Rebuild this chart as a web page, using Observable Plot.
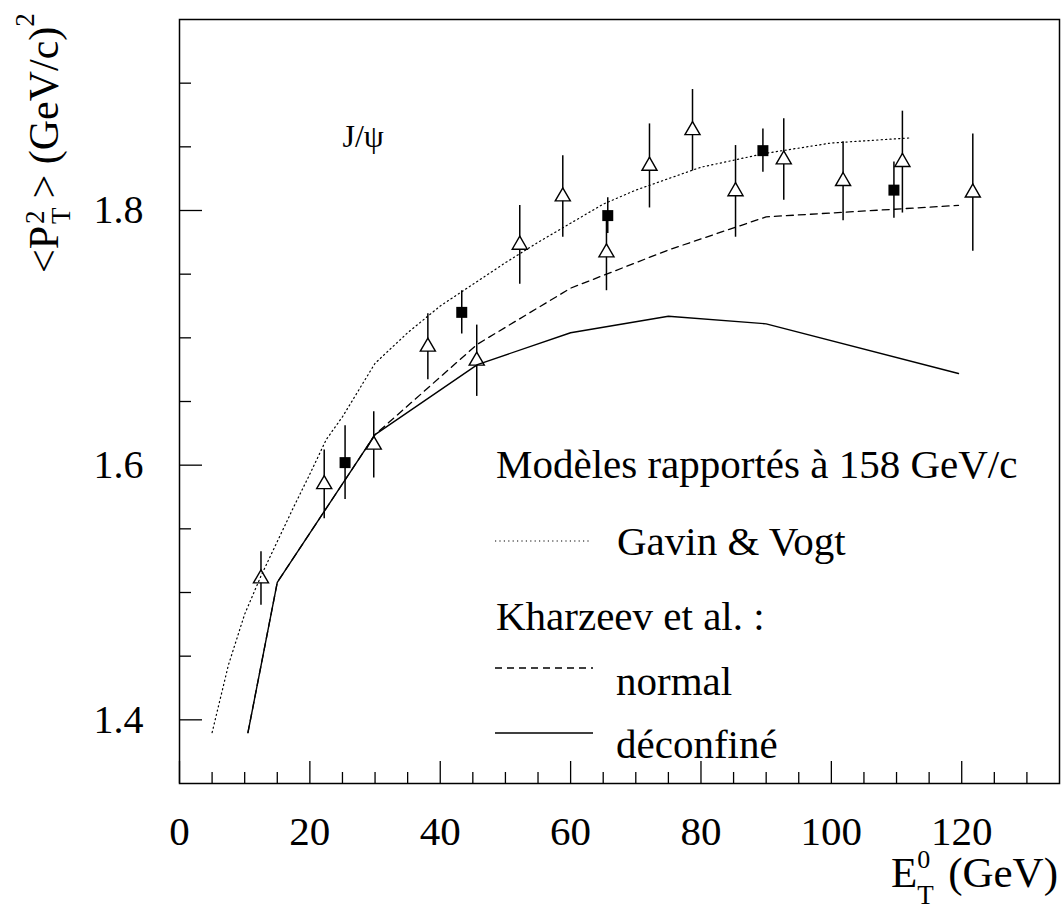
<!DOCTYPE html>
<html>
<head>
<meta charset="utf-8">
<script src="https://cdn.jsdelivr.net/npm/d3@7"></script>
<script src="https://cdn.jsdelivr.net/npm/@observablehq/plot@0.6"></script>
<style>
  html, body { margin: 0; padding: 0; background: #fff; }
  #chart { width: 1062px; height: 919px; }
</style>
</head>
<body>
<div id="chart"></div>
<script>
// ---- Data ----
// Open triangles (E_T^0, <pT^2>, error)
const triX   = [12.5, 22.2, 29.8, 38.1, 45.6, 52.2, 58.8, 65.5, 72.1, 78.7, 85.3, 92.7, 101.8, 110.9, 121.7];
const triY   = [1.511, 1.585, 1.616, 1.693, 1.682, 1.773, 1.811, 1.767, 1.835, 1.863, 1.815, 1.840, 1.823, 1.838, 1.814];
const triErr = [0.021, 0.027, 0.026, 0.026, 0.028, 0.031, 0.032, 0.030, 0.033, 0.032, 0.036, 0.032, 0.031, 0.040, 0.046];

// Filled squares
const sqX   = [25.4, 43.3, 65.7, 89.5, 109.6];
const sqY   = [1.602, 1.720, 1.796, 1.847, 1.816];
const sqErr = [0.029, 0.017, 0.014, 0.017, 0.022];

// Gavin & Vogt (dotted)
const gvX = [5, 7.5, 10, 12.5, 15, 17.5, 20, 22.5, 25, 30, 35, 40, 45, 50, 55, 60, 65, 70, 75, 80, 90, 100, 112];
const gvY = [1.390, 1.443, 1.483, 1.513, 1.540, 1.567, 1.593, 1.620, 1.638, 1.680, 1.704, 1.725, 1.742, 1.759, 1.775, 1.790, 1.805, 1.816, 1.825, 1.834, 1.845, 1.853, 1.857];

// Kharzeev et al. normal (dashed)
const knX = [10.5, 15, 30, 45.7, 60, 75, 90, 119.5];
const knY = [1.390, 1.508, 1.624, 1.695, 1.739, 1.769, 1.795, 1.804];

// Kharzeev et al. deconfined (solid)
const kdX = [10.5, 15, 30, 45.7, 60, 75, 90, 119.5];
const kdY = [1.390, 1.508, 1.624, 1.679, 1.704, 1.717, 1.711, 1.672];

// Axes
const xDomain = [0, 135];
const yDomain = [1.35, 1.95];
const xMajor = [0, 20, 40, 60, 80, 100, 120];
const xMinor = [5, 10, 15, 25, 30, 35, 45, 50, 55, 65, 70, 75, 85, 90, 95, 105, 110, 115, 125, 130];
const yMajor = [1.4, 1.6, 1.8];
const yMinor = [1.45, 1.5, 1.55, 1.65, 1.7, 1.75, 1.85, 1.9];

// Annotation in data coordinates
const annX = [25];
const annY = [1.85];
const annText = ["J/ψ"];

// Legend texts
const legendTitle = "Modèles rapportés à 158 GeV/c";
const legendGV = "Gavin & Vogt";
const legendK = "Kharzeev et al. :";
const legendKN = "normal";
const legendKD = "déconfiné";

// ---- Build ----
const W = 1062, H = 919, mL = 179, mR = 3, mT = 19, mB = 136;
const innerW = W - mL - mR, innerH = H - mT - mB;
const serif = "'Liberation Serif', 'Times New Roman', Times, serif";

const tri = triX.map((x, i) => ({x, y: triY[i], e: triErr[i]}));
const sq = sqX.map((x, i) => ({x, y: sqY[i], e: sqErr[i]}));
const gv = gvX.map((x, i) => ({x, y: gvY[i]}));
const kn = knX.map((x, i) => ({x, y: knY[i]}));
const kd = kdX.map((x, i) => ({x, y: kdY[i]}));
const ann = annX.map((x, i) => ({x, y: annY[i], t: annText[i]}));

const chart = Plot.plot({
  width: W, height: H,
  marginLeft: mL, marginRight: mR, marginTop: mT, marginBottom: mB,
  x: {domain: xDomain, axis: null},
  y: {domain: yDomain, axis: null},
  style: {background: "white", fontFamily: serif, color: "black", overflow: "visible"},
  marks: [
    Plot.tickX(xMinor, {x: d => d, insetTop: innerH - 11, stroke: "black", strokeWidth: 1.3}),
    Plot.tickX(xMajor, {x: d => d, insetTop: innerH - 22, stroke: "black", strokeWidth: 1.3}),
    Plot.tickY(yMinor, {y: d => d, insetRight: innerW - 12, stroke: "black", strokeWidth: 1.3}),
    Plot.tickY(yMajor, {y: d => d, insetRight: innerW - 23, stroke: "black", strokeWidth: 1.3}),
    Plot.text(xMajor, {x: d => d, text: d => String(d), frameAnchor: "bottom", lineAnchor: "top", dy: 32, fontSize: 41, fontFamily: serif, fill: "black"}),
    Plot.text(yMajor, {y: d => d, text: d => d.toFixed(1), frameAnchor: "left", textAnchor: "end", dx: -36, fontSize: 40, fontFamily: serif, fill: "black"}),
    Plot.ruleX(tri, {x: "x", y1: d => d.y - d.e, y2: d => d.y + d.e, stroke: "black", strokeWidth: 1.5}),
    Plot.ruleX(sq, {x: "x", y1: d => d.y - d.e, y2: d => d.y + d.e, stroke: "black", strokeWidth: 1.5}),
    Plot.dot(tri, {x: "x", y: "y", symbol: "triangle", r: 5.6, fill: "white", stroke: "black", strokeWidth: 1.4}),
    Plot.line(gv, {x: "x", y: "y", stroke: "black", strokeWidth: 1.2, strokeDasharray: "1.2,3.2"}),
    Plot.line(kn, {x: "x", y: "y", stroke: "black", strokeWidth: 1.3, strokeDasharray: "7,5"}),
    Plot.line(kd, {x: "x", y: "y", stroke: "black", strokeWidth: 1.4}),
    Plot.dot(sq, {x: "x", y: "y", symbol: "square", r: 6.2, fill: "black", stroke: "none"}),
    Plot.text(ann, {x: "x", y: "y", text: "t", textAnchor: "start", lineAnchor: "bottom", fontSize: 32, fontFamily: serif, fill: "black"}),
    Plot.frame({stroke: "black", strokeWidth: 1.5})
  ]
});
document.getElementById("chart").appendChild(chart);

// ---- Legend and axis titles (overlayed text) ----
const svg = d3.select(chart);
function addText(g, x, y, size, str, anchor) {
  return g.append("text")
    .attr("x", x).attr("y", y)
    .attr("text-anchor", anchor || "start")
    .style("font-family", serif)
    .style("font-size", size + "px")
    .style("fill", "black")
    .text(str);
}
const leg = svg.append("g");
addText(leg, 496, 478, 41, legendTitle);
leg.append("line").attr("x1", 495).attr("x2", 590).attr("y1", 541).attr("y2", 541)
  .attr("stroke", "black").attr("stroke-width", 1.2).attr("stroke-dasharray", "1.2,3.2");
addText(leg, 617, 555, 41, legendGV);
addText(leg, 496, 630, 41, legendK);
leg.append("line").attr("x1", 495).attr("x2", 593).attr("y1", 668).attr("y2", 668)
  .attr("stroke", "black").attr("stroke-width", 1.3).attr("stroke-dasharray", "7,5");
addText(leg, 616, 695, 41, legendKN);
leg.append("line").attr("x1", 495).attr("x2", 593).attr("y1", 733).attr("y2", 733)
  .attr("stroke", "black").attr("stroke-width", 1.4);
addText(leg, 616, 758, 41, legendKD);

// X title: E_T^0 (GeV)
const xt = svg.append("text")
  .attr("x", 891).attr("y", 887).attr("text-anchor", "start")
  .style("font-family", serif).style("font-size", "43px").style("fill", "black");
xt.append("tspan").text("E");
xt.append("tspan").attr("dy", 17).style("font-size", "27px").text("T");
xt.append("tspan").attr("dx", -16.5).attr("dy", -36).style("font-size", "26px").text("0");
addText(svg, 1058, 887, 43, "(GeV)", "end");

// Y title: <P_T^2> (GeV/c)^2 rotated, single text with tspans
const yt = svg.append("text")
  .attr("transform", "translate(58,273) rotate(-90)")
  .attr("x", 0).attr("y", 0).attr("text-anchor", "start")
  .style("font-family", serif).style("font-size", "42px").style("fill", "black");
yt.append("tspan").text("<P");
yt.append("tspan").attr("dx", 2).attr("dy", 12).style("font-size", "27px").text("T");
yt.append("tspan").attr("dx", -16.5).attr("dy", -26).style("font-size", "27px").text("2");
yt.append("tspan").attr("dx", 12).attr("dy", 14).text("> (GeV/c)");
yt.append("tspan").attr("dy", -24).style("font-size", "27px").text("2");
</script>
</body>
</html>
